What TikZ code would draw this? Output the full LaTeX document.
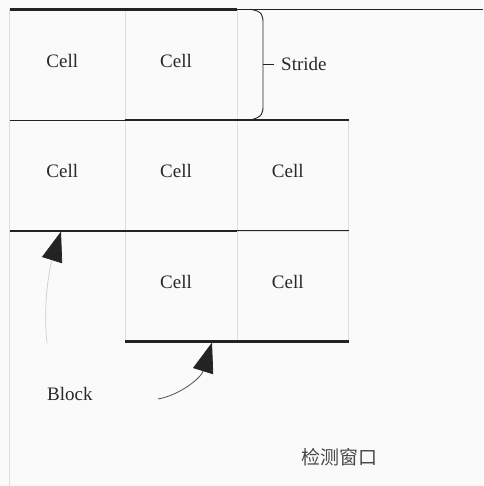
\documentclass[tikz,border=0pt]{standalone}
\usepackage{fontspec}
\setmainfont{Liberation Serif}
\newfontfamily\cjk{Noto Sans CJK SC}
\usetikzlibrary{arrows.meta}
\definecolor{bg}{RGB}{250,250,250}
\definecolor{gridc}{RGB}{222,222,222}
\definecolor{darkline}{RGB}{35,35,35}
\definecolor{textc}{RGB}{40,40,40}
\definecolor{lightarrow}{RGB}{205,205,205}
\definecolor{midarrow}{RGB}{80,80,80}
\begin{document}
\begin{tikzpicture}[x=1pt,y=-1pt,
  cellbox/.style={draw=gridc,line width=0.6pt,anchor=north west,inner sep=0pt,outer sep=0pt,minimum height=110.8pt},
  celltext/.style={font=\fontsize{19}{22}\selectfont,text=textc,inner sep=0pt},
  thickline/.style={draw=darkline,line width=2.6pt},
  thinline/.style={draw=darkline,line width=1.1pt},
  tipstyle/.style={-{Triangle[length=30pt,width=21pt,color=darkline]}}
]
\fill[bg] (0,0) rectangle (483,486);
\useasboundingbox (0,0) rectangle (483,486);
% cells
\node[cellbox,minimum width=115.5pt] (c11) at (9.5,9.3) {};
\node[cellbox,minimum width=112pt] (c12) at (125,9.3) {};
\node[cellbox,minimum width=115.5pt] (c21) at (9.5,120.1) {};
\node[cellbox,minimum width=112pt] (c22) at (125,120.1) {};
\node[cellbox,minimum width=111.5pt] (c23) at (237,120.1) {};
\node[cellbox,minimum width=112pt] (c32) at (125,230.9) {};
\node[cellbox,minimum width=111.5pt] (c33) at (237,230.9) {};
\foreach \c in {c11,c12,c21,c22,c23,c32,c33}{
  \node[celltext] at ([shift={(-5,-4)}]\c.center) {Cell};
}
% left line
\coordinate (leftbottom) at (9.5,486);
\draw[gridc,line width=0.8pt] (c11.north west) -- (leftbottom);
% horizontal lines
\coordinate (topright) at (483,9.3);
\draw[thickline] (c11.north west) -- (c12.north east);
\draw[thinline] (c12.north east) -- (topright);
\draw[thinline] (c21.north west) -- (c22.north west);
\draw[thickline] (c22.north west) -- (c23.north east);
\draw[thickline] (c21.south west) -- (c22.south east);
\draw[thinline] (c23.south west) -- (c23.south east);
\draw[thickline] (c32.south west) -- (c33.south east);
% brace
\coordinate (bt) at (250,9.3);
\coordinate (bb) at (250,120.1);
\coordinate (bm) at (263,64);
\draw[darkline,line width=0.9pt] (bt) .. controls (263,11) and (263,16) .. (263,24) -- (263,105) .. controls (263,113) and (263,117) .. (bb);
\node[celltext,anchor=west,inner xsep=7pt] (stride) at (274,64) {Stride};
\draw[darkline,line width=0.9pt] (bm) -- (stride.west);
% block label and arrows
\node[celltext,anchor=west] (block) at (47,394) {Block};
\coordinate (a1s) at (47,343);
\coordinate (a1t) at (61,231.5);
\draw[lightarrow,line width=0.7pt,tipstyle] (a1s) .. controls (43,305) and (49,270) .. (a1t);
\coordinate (a2s) at (158,399);
\coordinate (a2t) at (212,342.5);
\draw[midarrow,line width=0.8pt,tipstyle] (a2s) .. controls (180,395) and (201,378) .. (a2t);
% window label
\node[font=\cjk\fontsize{19}{22}\selectfont,text=textc!85,inner sep=0pt] (win) at (339,457.5) {检测窗口};
\end{tikzpicture}
\end{document}
